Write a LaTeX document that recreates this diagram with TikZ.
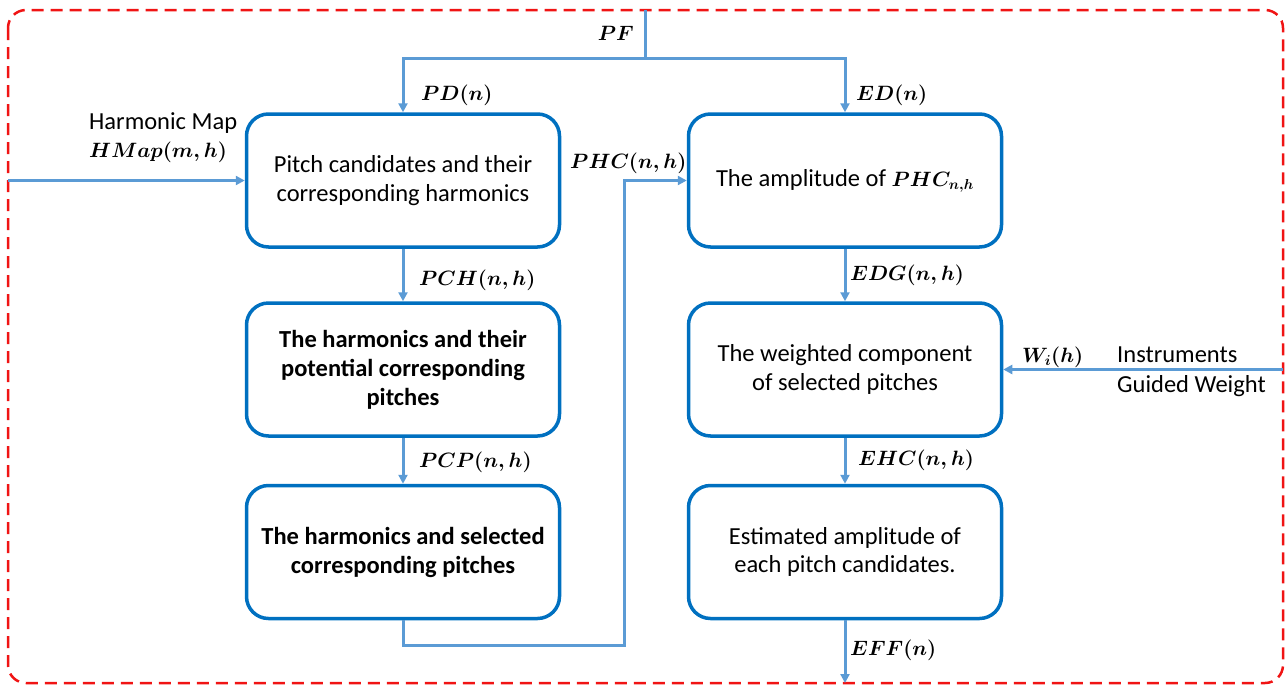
\documentclass[tikz,border=0pt]{standalone}
\usepackage{fontspec}
\setmainfont{Carlito}
\usetikzlibrary{arrows.meta}
\definecolor{boxblue}{RGB}{0,112,192}
\definecolor{linkblue}{RGB}{91,155,213}
\definecolor{framered}{RGB}{240,20,20}
\begin{document}
\begin{tikzpicture}[x=1pt,y=-1pt,
 box/.style={draw=boxblue, line width=3.5pt, rounded corners=22pt, minimum width=313pt, minimum height=133pt, align=center, font=\fontsize{24.5}{28.5}\selectfont, inner sep=0},
 boldbox/.style={box, font=\fontsize{24.5}{29}\selectfont\bfseries},
 link/.style={draw=linkblue, line width=3pt, -{Triangle[length=9pt,width=9pt]}},
 plain/.style={draw=linkblue, line width=3pt},
 lab/.style={font=\fontsize{21}{25}\selectfont\boldmath, inner sep=0},
 txt/.style={font=\fontsize{24.5}{30}\selectfont, inner sep=0, align=left}]
\useasboundingbox (0,0) rectangle (1287,686);
\draw[framered, line width=2.5pt, dash pattern=on 12pt off 7pt, rounded corners=18pt] (8,10) rectangle (1283,683);

\node[box] (b1) at (403,180.5) {Pitch candidates and their\\corresponding harmonics};
\node[boldbox] (b2) at (403,369.5) {The harmonics and their\\potential corresponding\\pitches};
\node[boldbox] (b3) at (403,552) {The harmonics and selected\\corresponding pitches};
\node[box] (b4) at (845,180.5) {The amplitude of {\fontsize{21}{25}\selectfont\boldmath$PHC_{n,h}$}};
\node[box] (b5) at (845,369.5) {The weighted component\\of selected pitches};
\node[box] (b6) at (845,552) {Estimated amplitude of\\each pitch candidates.};

\coordinate (pftop) at (645,10);
\coordinate (pfj) at (645,58);
\coordinate (hin) at (8,180.5);
\coordinate (mid) at (624,645);
\coordinate (win) at (1283,369.5);
\coordinate (out) at (845,683);

\draw[plain] (pftop) -- (pfj);
\draw[link] (pfj) -| (b1.north);
\draw[link] (pfj) -| (b4.north);
\draw[link] (hin) -- (b1.west);
\draw[link] (b1.south) -- (b2.north);
\draw[link] (b2.south) -- (b3.north);
\draw[link] (b3.south) |- (mid) |- (b4.west);
\draw[link] (b4.south) -- (b5.north);
\draw[link] (b5.south) -- (b6.north);
\draw[link] (win) -- (b5.east);
\draw[link] (b6.south) -- (out);

\node[lab, anchor=east] (lpf) at (634,33) {$PF$};
\node[lab, anchor=west] (lpd) at (421,95) {$PD(n)$};
\node[lab, anchor=west] (led) at (856,95) {$ED(n)$};
\node[txt, anchor=west] (lhm) at (89,123) {Harmonic Map};
\node[lab, anchor=west] (lhmap) at (89,152) {$HMap(m,h)$};
\node[lab, anchor=west] (lphc) at (570,163) {$PHC(n,h)$};
\node[lab, anchor=west] (lpch) at (419,280) {$PCH(n,h)$};
\node[lab, anchor=west] (lpcp) at (419,462) {$PCP(n,h)$};
\node[lab, anchor=west] (ledg) at (850,275) {$EDG(n,h)$};
\node[lab, anchor=west] (lehc) at (858,460) {$EHC(n,h)$};
\node[lab, anchor=west] (leff) at (850,650) {$EFF(n)$};
\node[lab, anchor=west] (lw) at (1022,357) {$W_i(h)$};
\node[txt, anchor=west] (linst) at (1117,372) {Instruments\\Guided Weight};
\end{tikzpicture}
\end{document}
